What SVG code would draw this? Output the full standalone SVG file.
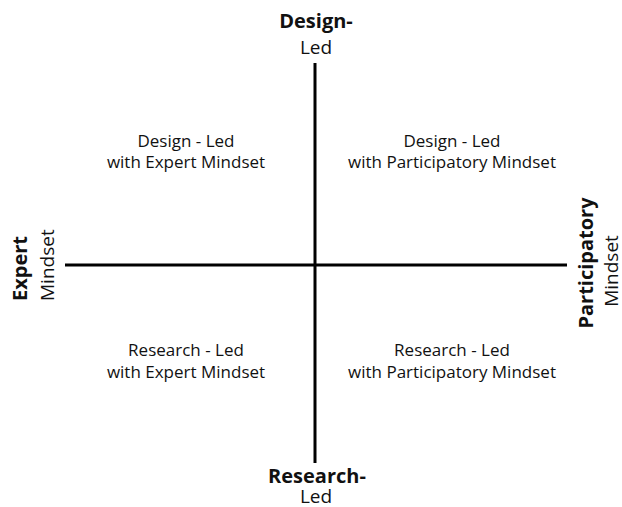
<svg xmlns="http://www.w3.org/2000/svg" width="622" height="507" viewBox="0 0 622 507">
<style>
text{font-family:"Open Sans","Noto Sans",sans-serif;fill:#111;text-anchor:middle}
.b{font-weight:bold;font-size:20px}
.r{font-size:19px}
.s{text-anchor:start}
.q{font-size:17px}
.ax{stroke:#000;stroke-width:3;fill:none}
</style>
<rect width="622" height="507" fill="#fff"/>
<g id="connectors">
<line class="ax" x1="315" y1="63" x2="315" y2="463"/>
<line class="ax" x1="65" y1="265" x2="567" y2="265"/>
</g>
<g id="top"><text class="b" x="316" y="28">Design-</text><text class="r" x="316" y="54">Led</text></g>
<g id="bottom"><text class="b" x="317" y="483">Research-</text><text class="r" x="316" y="503">Led</text></g>
<g id="left"><text class="b s" transform="translate(27,301) rotate(-90)">Expert</text><text class="r s" transform="translate(54,301) rotate(-90)">Mindset</text></g>
<g id="right"><text class="b" transform="translate(593,263) rotate(-90)">Participatory</text><text class="r" transform="translate(618,271) rotate(-90)">Mindset</text></g>
<g id="q1"><text class="q" x="186" y="147">Design - Led</text><text class="q" x="186" y="168">with Expert Mindset</text></g>
<g id="q2"><text class="q" x="452" y="147">Design - Led</text><text class="q" x="452" y="168">with Participatory Mindset</text></g>
<g id="q3"><text class="q" x="186" y="356">Research - Led</text><text class="q" x="186" y="378">with Expert Mindset</text></g>
<g id="q4"><text class="q" x="452" y="356">Research - Led</text><text class="q" x="452" y="378">with Participatory Mindset</text></g>
</svg>
